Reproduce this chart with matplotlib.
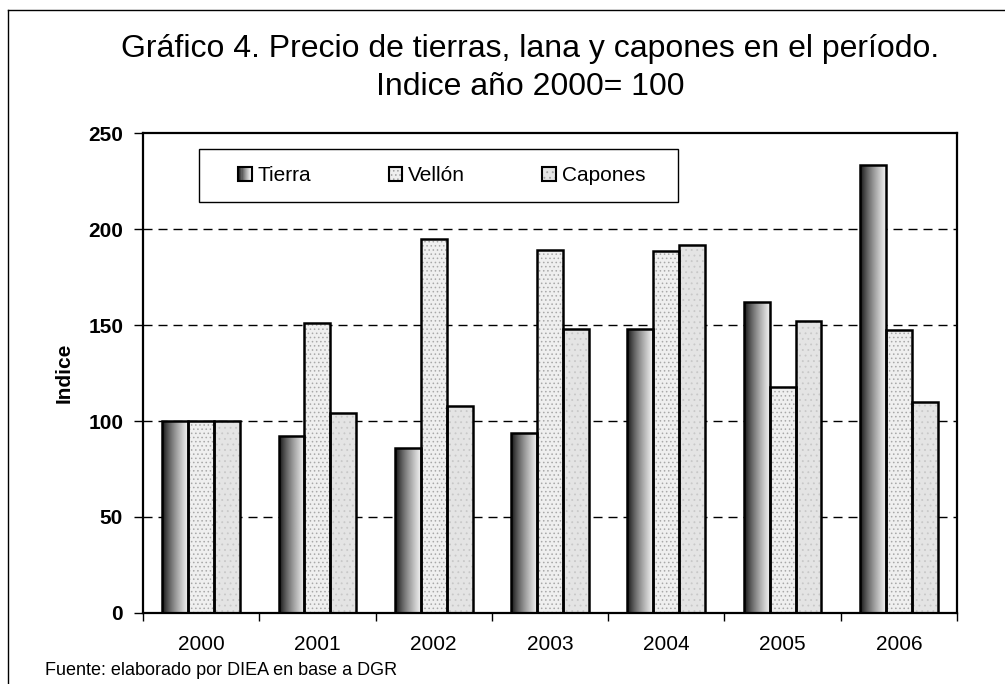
import matplotlib
matplotlib.use('Agg')
import matplotlib.pyplot as plt
import numpy as np
import matplotlib.patches as patches
from matplotlib.lines import Line2D
from matplotlib.legend_handler import HandlerBase

plt.rcParams['font.family'] = ['Liberation Sans', 'DejaVu Sans']
plt.rcParams['hatch.linewidth'] = 0.6

years = ['2000', '2001', '2002', '2003', '2004', '2005', '2006']
tierra = [100, 92, 86, 94, 148, 162, 233.5]
vellon = [100, 151, 195, 189, 188.5, 117.5, 147.5]
capones = [100, 104, 108, 148, 191.5, 152, 110]
series_names = ['Tierra', 'Vellón', 'Capones']

W = 0.223
gray_ramp = plt.get_cmap('gray')


def ramp_values(n):
    return 0.02 + 0.93 * np.linspace(0, 1, n) ** 0.75


class GradientHandler(HandlerBase):
    def create_artists(self, legend, orig_handle, xdescent, ydescent,
                       width, height, fontsize, trans):
        n = 12
        vals = ramp_values(n)
        arts = []
        for i in range(n):
            arts.append(patches.Rectangle((-xdescent + i * width / n, -ydescent), width / n, height,
                                          facecolor=gray_ramp(vals[i]), edgecolor='none', transform=trans))
        arts.append(patches.Rectangle((-xdescent, -ydescent), width, height, fill=False,
                                      edgecolor='black', lw=1.5, transform=trans))
        return arts


class HatchHandler(HandlerBase):
    def create_artists(self, legend, orig_handle, xdescent, ydescent,
                       width, height, fontsize, trans):
        a = patches.Rectangle((-xdescent, -ydescent), width, height, facecolor=orig_handle.get_facecolor(),
                              hatch=orig_handle.get_hatch(), edgecolor='#a0a0a0', lw=0, transform=trans)
        b = patches.Rectangle((-xdescent, -ydescent), width, height, fill=False,
                              edgecolor='black', lw=1.5, transform=trans)
        return [a, b]


fig = plt.figure(figsize=(10.05, 6.84), dpi=100)
ax = fig.add_axes([143 / 1005, 1 - 613 / 684, 814 / 1005, 480 / 684])

x = np.arange(len(years))

# Tierra: gradient bars
grad = ramp_values(256).reshape(1, -1)
tb = ax.bar(x - W, tierra, W, facecolor='none', edgecolor='black', lw=1.8, zorder=3)
for bar in tb:
    x0 = bar.get_x()
    im = ax.imshow(grad, cmap='gray', vmin=0, vmax=1, aspect='auto',
                   extent=(x0, x0 + bar.get_width(), 0, bar.get_height()), zorder=2)
    im.set_clip_path(bar)

# Vellón: dotted texture
ax.bar(x, vellon, W, facecolor='#efefef', edgecolor='#a8a8a8', hatch='....', lw=0, zorder=2)
ax.bar(x, vellon, W, fill=False, edgecolor='black', lw=1.8, zorder=3)

# Capones
ax.bar(x + W, capones, W, facecolor='#e4e4e4', edgecolor='#c8c8c8', hatch='...', lw=0, zorder=2)
ax.bar(x + W, capones, W, fill=False, edgecolor='black', lw=1.8, zorder=3)

ax.set_xlim(-0.5, len(years) - 0.5)
ax.set_ylim(0, 250)
ax.set_yticks([0, 50, 100, 150, 200, 250])
ax.set_xticks(x)
ax.set_xticklabels(years, fontsize=15)
ax.set_xticks(np.arange(-0.5, len(years)), minor=True)
ax.tick_params(axis='x', which='major', length=0, pad=16)
ax.tick_params(axis='x', which='minor', length=5.5, width=1, direction='out')
ax.tick_params(axis='y', length=6.3, width=1, direction='out', labelsize=15, pad=8)
for lab in ax.get_yticklabels():
    lab.set_fontweight('bold')

for v in [50, 100, 150, 200]:
    ax.axhline(v, color='black', lw=1, ls=(0, (6.5, 4.3)), zorder=1)

for s in ax.spines.values():
    s.set_linewidth(1.6)

ax.set_ylabel('Indice', fontsize=15, fontweight='bold')
ax.yaxis.set_label_coords((74 - 143) / 814, 0.5)

# legend box
ax.add_patch(patches.Rectangle(((199 - 143) / 814, (613 - 202) / 480), 479 / 814, 53 / 480,
                               transform=ax.transAxes, facecolor='white', edgecolor='black',
                               lw=1, zorder=4))
h_t = patches.Patch(facecolor='gray')
h_v = patches.Patch(facecolor='#efefef', hatch='....')
h_c = patches.Patch(facecolor='#e4e4e4', hatch='...')
leg = ax.legend([h_t, h_v, h_c], series_names, ncol=3, loc='center left',
                bbox_to_anchor=((238 - 143) / 814, (613 - 175.5) / 480),
                fontsize=15, frameon=False, handlelength=0.65,
                handleheight=0.65, handletextpad=0.3, columnspacing=3.7,
                borderpad=0, borderaxespad=0,
                handler_map={h_t: GradientHandler(), h_v: HatchHandler(), h_c: HatchHandler()})
leg.set_zorder(5)

fig.text(530 / 1005, 1 - 57 / 684, 'Gráfico 4. Precio de tierras, lana y capones en el período.',
         ha='center', va='baseline', fontsize=23)
fig.text(530 / 1005, 1 - 95 / 684, 'Indice año 2000= 100', ha='center', va='baseline', fontsize=23)
fig.text(45 / 1005, 1 - 675 / 684, 'Fuente: elaborado por DIEA en base a DGR',
         ha='left', va='baseline', fontsize=13)

fig.add_artist(Line2D([8 / 1005, 8 / 1005], [1 - 10 / 684, 0], transform=fig.transFigure,
                      color='black', lw=1))
fig.add_artist(Line2D([8 / 1005, 1], [1 - 10 / 684, 1 - 10 / 684], transform=fig.transFigure,
                      color='black', lw=1))

fig.savefig('out.png', dpi=100)
